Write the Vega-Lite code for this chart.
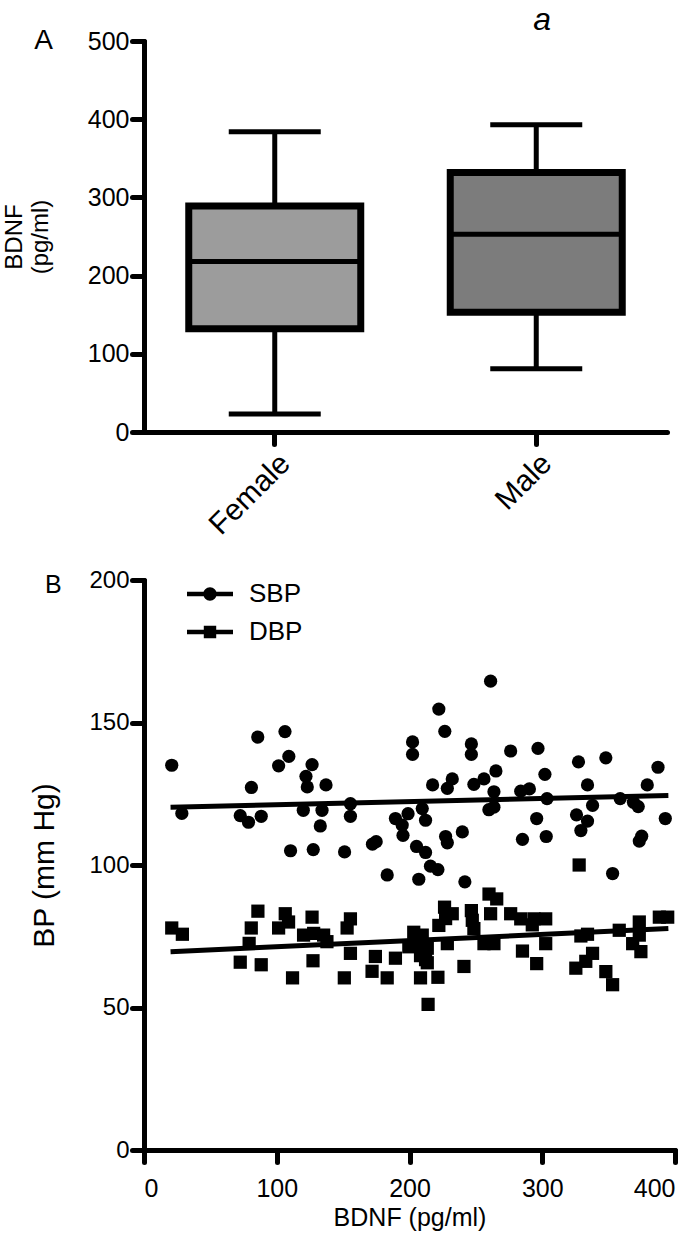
{
  "$schema": "https://vega.github.io/schema/vega-lite/v6.json",
  "background": "white",
  "padding": {"left": 2, "top": 4, "right": 10, "bottom": 2},
  "title": {"text": "a", "anchor": "start", "dx": 531, "fontSize": 32, "fontStyle": "italic", "fontWeight": "normal", "font": "Liberation Sans", "color": "black", "offset": -10},
  "spacing": 28,
  "resolve": {"legend": {"shape": "independent"}, "scale": {"shape": "independent"}},
  "config": {
    "view": {"stroke": null},
    "axis": {"domainColor": "black", "domainWidth": 5, "tickColor": "black", "tickWidth": 5, "tickSize": 12, "tickCap": "round", "domainCap": "round", "labelColor": "black", "titleColor": "black", "grid": false, "labelFont": "Liberation Sans", "titleFont": "Liberation Sans", "titleFontWeight": "normal", "labelFontSize": 25, "labelPadding": 3}
  },
  "datasets": {
    "box": [
      {"sex": "Female", "min": 23, "q1": 132, "median": 218, "q3": 289, "max": 384},
      {"sex": "Male", "min": 81, "q1": 153, "median": 253, "q3": 332, "max": 393}
    ],
    "fit": [
      {"bdnf": 20, "bp": 120.3, "series": "SBP"},
      {"bdnf": 395, "bp": 124.4, "series": "SBP"},
      {"bdnf": 20, "bp": 69.6, "series": "DBP"},
      {"bdnf": 395, "bp": 77.7, "series": "DBP"}
    ],
    "pts": [
      {"bdnf": 20.9, "bp": 135.0, "series": "SBP"},
      {"bdnf": 28.5, "bp": 118.1, "series": "SBP"},
      {"bdnf": 85.7, "bp": 144.9, "series": "SBP"},
      {"bdnf": 106.2, "bp": 146.8, "series": "SBP"},
      {"bdnf": 109.1, "bp": 138.1, "series": "SBP"},
      {"bdnf": 101.4, "bp": 134.8, "series": "SBP"},
      {"bdnf": 80.9, "bp": 127.2, "series": "SBP"},
      {"bdnf": 126.6, "bp": 135.2, "series": "SBP"},
      {"bdnf": 122.0, "bp": 131.1, "series": "SBP"},
      {"bdnf": 123.0, "bp": 127.4, "series": "SBP"},
      {"bdnf": 137.1, "bp": 128.1, "series": "SBP"},
      {"bdnf": 72.5, "bp": 117.3, "series": "SBP"},
      {"bdnf": 78.7, "bp": 115.0, "series": "SBP"},
      {"bdnf": 88.3, "bp": 117.1, "series": "SBP"},
      {"bdnf": 120.0, "bp": 119.2, "series": "SBP"},
      {"bdnf": 134.1, "bp": 119.2, "series": "SBP"},
      {"bdnf": 132.8, "bp": 113.7, "series": "SBP"},
      {"bdnf": 110.4, "bp": 105.0, "series": "SBP"},
      {"bdnf": 127.5, "bp": 105.4, "series": "SBP"},
      {"bdnf": 151.1, "bp": 104.6, "series": "SBP"},
      {"bdnf": 155.5, "bp": 121.5, "series": "SBP"},
      {"bdnf": 155.5, "bp": 117.1, "series": "SBP"},
      {"bdnf": 183.2, "bp": 96.5, "series": "SBP"},
      {"bdnf": 172.1, "bp": 107.3, "series": "SBP"},
      {"bdnf": 174.9, "bp": 108.2, "series": "SBP"},
      {"bdnf": 189.4, "bp": 116.3, "series": "SBP"},
      {"bdnf": 194.5, "bp": 114.0, "series": "SBP"},
      {"bdnf": 195.1, "bp": 110.4, "series": "SBP"},
      {"bdnf": 198.9, "bp": 118.0, "series": "SBP"},
      {"bdnf": 202.3, "bp": 143.2, "series": "SBP"},
      {"bdnf": 202.3, "bp": 138.8, "series": "SBP"},
      {"bdnf": 222.1, "bp": 154.7, "series": "SBP"},
      {"bdnf": 226.6, "bp": 146.9, "series": "SBP"},
      {"bdnf": 246.6, "bp": 142.5, "series": "SBP"},
      {"bdnf": 246.6, "bp": 138.8, "series": "SBP"},
      {"bdnf": 261.1, "bp": 164.5, "series": "SBP"},
      {"bdnf": 276.2, "bp": 140.0, "series": "SBP"},
      {"bdnf": 296.8, "bp": 140.9, "series": "SBP"},
      {"bdnf": 327.3, "bp": 136.2, "series": "SBP"},
      {"bdnf": 347.9, "bp": 137.6, "series": "SBP"},
      {"bdnf": 387.2, "bp": 134.3, "series": "SBP"},
      {"bdnf": 265.1, "bp": 133.0, "series": "SBP"},
      {"bdnf": 302.0, "bp": 131.8, "series": "SBP"},
      {"bdnf": 232.2, "bp": 130.2, "series": "SBP"},
      {"bdnf": 228.5, "bp": 126.9, "series": "SBP"},
      {"bdnf": 217.4, "bp": 128.1, "series": "SBP"},
      {"bdnf": 248.5, "bp": 128.3, "series": "SBP"},
      {"bdnf": 256.1, "bp": 130.2, "series": "SBP"},
      {"bdnf": 263.6, "bp": 125.7, "series": "SBP"},
      {"bdnf": 283.8, "bp": 125.9, "series": "SBP"},
      {"bdnf": 290.3, "bp": 126.7, "series": "SBP"},
      {"bdnf": 334.1, "bp": 128.1, "series": "SBP"},
      {"bdnf": 379.1, "bp": 128.1, "series": "SBP"},
      {"bdnf": 303.6, "bp": 123.3, "series": "SBP"},
      {"bdnf": 358.7, "bp": 123.3, "series": "SBP"},
      {"bdnf": 337.9, "bp": 120.9, "series": "SBP"},
      {"bdnf": 372.3, "bp": 120.5, "series": "SBP"},
      {"bdnf": 368.7, "bp": 122.0, "series": "SBP"},
      {"bdnf": 259.8, "bp": 119.4, "series": "SBP"},
      {"bdnf": 263.6, "bp": 120.3, "series": "SBP"},
      {"bdnf": 209.6, "bp": 119.8, "series": "SBP"},
      {"bdnf": 212.1, "bp": 115.7, "series": "SBP"},
      {"bdnf": 295.8, "bp": 116.3, "series": "SBP"},
      {"bdnf": 325.8, "bp": 117.6, "series": "SBP"},
      {"bdnf": 334.1, "bp": 115.4, "series": "SBP"},
      {"bdnf": 329.1, "bp": 112.1, "series": "SBP"},
      {"bdnf": 392.7, "bp": 116.3, "series": "SBP"},
      {"bdnf": 227.2, "bp": 110.0, "series": "SBP"},
      {"bdnf": 228.5, "bp": 107.8, "series": "SBP"},
      {"bdnf": 239.8, "bp": 111.6, "series": "SBP"},
      {"bdnf": 285.1, "bp": 109.0, "series": "SBP"},
      {"bdnf": 303.0, "bp": 110.0, "series": "SBP"},
      {"bdnf": 374.9, "bp": 110.1, "series": "SBP"},
      {"bdnf": 373.1, "bp": 108.4, "series": "SBP"},
      {"bdnf": 205.3, "bp": 106.5, "series": "SBP"},
      {"bdnf": 212.1, "bp": 104.4, "series": "SBP"},
      {"bdnf": 215.8, "bp": 99.6, "series": "SBP"},
      {"bdnf": 221.4, "bp": 98.4, "series": "SBP"},
      {"bdnf": 207.0, "bp": 95.0, "series": "SBP"},
      {"bdnf": 241.7, "bp": 94.1, "series": "SBP"},
      {"bdnf": 353.0, "bp": 97.0, "series": "SBP"},
      {"bdnf": 20.9, "bp": 77.9, "series": "DBP"},
      {"bdnf": 28.9, "bp": 75.7, "series": "DBP"},
      {"bdnf": 85.8, "bp": 83.8, "series": "DBP"},
      {"bdnf": 80.8, "bp": 77.9, "series": "DBP"},
      {"bdnf": 79.2, "bp": 72.5, "series": "DBP"},
      {"bdnf": 72.5, "bp": 65.9, "series": "DBP"},
      {"bdnf": 88.3, "bp": 65.0, "series": "DBP"},
      {"bdnf": 106.4, "bp": 82.9, "series": "DBP"},
      {"bdnf": 108.9, "bp": 80.0, "series": "DBP"},
      {"bdnf": 101.4, "bp": 77.9, "series": "DBP"},
      {"bdnf": 111.9, "bp": 60.4, "series": "DBP"},
      {"bdnf": 126.6, "bp": 81.7, "series": "DBP"},
      {"bdnf": 120.2, "bp": 75.4, "series": "DBP"},
      {"bdnf": 127.8, "bp": 76.0, "series": "DBP"},
      {"bdnf": 135.3, "bp": 75.4, "series": "DBP"},
      {"bdnf": 137.8, "bp": 73.1, "series": "DBP"},
      {"bdnf": 127.3, "bp": 66.4, "series": "DBP"},
      {"bdnf": 155.5, "bp": 81.1, "series": "DBP"},
      {"bdnf": 153.0, "bp": 77.9, "series": "DBP"},
      {"bdnf": 155.5, "bp": 69.0, "series": "DBP"},
      {"bdnf": 150.9, "bp": 60.4, "series": "DBP"},
      {"bdnf": 174.3, "bp": 67.9, "series": "DBP"},
      {"bdnf": 171.8, "bp": 62.7, "series": "DBP"},
      {"bdnf": 183.2, "bp": 60.4, "series": "DBP"},
      {"bdnf": 189.4, "bp": 67.3, "series": "DBP"},
      {"bdnf": 203.2, "bp": 76.4, "series": "DBP"},
      {"bdnf": 204.5, "bp": 72.4, "series": "DBP"},
      {"bdnf": 199.5, "bp": 71.3, "series": "DBP"},
      {"bdnf": 208.3, "bp": 60.4, "series": "DBP"},
      {"bdnf": 214.0, "bp": 51.1, "series": "DBP"},
      {"bdnf": 209.6, "bp": 75.4, "series": "DBP"},
      {"bdnf": 213.4, "bp": 70.8, "series": "DBP"},
      {"bdnf": 212.1, "bp": 66.8, "series": "DBP"},
      {"bdnf": 208.3, "bp": 68.2, "series": "DBP"},
      {"bdnf": 213.4, "bp": 65.7, "series": "DBP"},
      {"bdnf": 221.4, "bp": 60.6, "series": "DBP"},
      {"bdnf": 226.4, "bp": 85.2, "series": "DBP"},
      {"bdnf": 227.2, "bp": 81.2, "series": "DBP"},
      {"bdnf": 222.1, "bp": 78.8, "series": "DBP"},
      {"bdnf": 232.2, "bp": 82.9, "series": "DBP"},
      {"bdnf": 246.6, "bp": 84.0, "series": "DBP"},
      {"bdnf": 247.3, "bp": 80.6, "series": "DBP"},
      {"bdnf": 248.5, "bp": 77.7, "series": "DBP"},
      {"bdnf": 228.5, "bp": 72.4, "series": "DBP"},
      {"bdnf": 241.0, "bp": 64.4, "series": "DBP"},
      {"bdnf": 256.1, "bp": 72.4, "series": "DBP"},
      {"bdnf": 263.6, "bp": 72.4, "series": "DBP"},
      {"bdnf": 259.9, "bp": 89.8, "series": "DBP"},
      {"bdnf": 265.7, "bp": 88.1, "series": "DBP"},
      {"bdnf": 261.1, "bp": 82.9, "series": "DBP"},
      {"bdnf": 276.2, "bp": 82.9, "series": "DBP"},
      {"bdnf": 283.8, "bp": 81.1, "series": "DBP"},
      {"bdnf": 293.8, "bp": 81.1, "series": "DBP"},
      {"bdnf": 302.6, "bp": 81.1, "series": "DBP"},
      {"bdnf": 302.6, "bp": 72.4, "series": "DBP"},
      {"bdnf": 285.1, "bp": 69.8, "series": "DBP"},
      {"bdnf": 295.8, "bp": 65.4, "series": "DBP"},
      {"bdnf": 292.5, "bp": 79.0, "series": "DBP"},
      {"bdnf": 329.1, "bp": 75.1, "series": "DBP"},
      {"bdnf": 334.1, "bp": 75.7, "series": "DBP"},
      {"bdnf": 358.0, "bp": 77.1, "series": "DBP"},
      {"bdnf": 373.1, "bp": 80.0, "series": "DBP"},
      {"bdnf": 373.1, "bp": 75.4, "series": "DBP"},
      {"bdnf": 374.3, "bp": 69.6, "series": "DBP"},
      {"bdnf": 388.2, "bp": 81.7, "series": "DBP"},
      {"bdnf": 394.5, "bp": 81.7, "series": "DBP"},
      {"bdnf": 368.1, "bp": 72.4, "series": "DBP"},
      {"bdnf": 337.9, "bp": 69.0, "series": "DBP"},
      {"bdnf": 332.8, "bp": 66.2, "series": "DBP"},
      {"bdnf": 325.3, "bp": 63.8, "series": "DBP"},
      {"bdnf": 347.9, "bp": 62.6, "series": "DBP"},
      {"bdnf": 353.0, "bp": 58.0, "series": "DBP"},
      {"bdnf": 327.8, "bp": 100.0, "series": "DBP"}
    ]
  },
  "vconcat": [
    {
      "width": 523,
      "height": 391,
      "title": {"text": "A", "anchor": "start", "frame": "bounds", "fontSize": 28, "font": "Liberation Sans", "fontWeight": "normal", "color": "black", "offset": -26, "dx": 32},
      "data": {"name": "box"},
      "encoding": {
        "x": {"field": "sex", "type": "nominal", "sort": ["Female", "Male"], "scale": {"paddingInner": 0, "paddingOuter": 0}, "axis": {"title": null, "labelAngle": -45, "labelFont": "Liberation Sans", "labelFontSize": 30, "labelPadding": 4}}
      },
      "layer": [
        {
          "mark": {"type": "rule", "color": "black", "strokeWidth": 5},
          "encoding": {
            "y": {"field": "min", "type": "quantitative", "scale": {"domain": [0, 500]}, "axis": {"values": [0, 100, 200, 300, 400, 500], "title": ["BDNF", "(pg/ml)"], "titleFontSize": 24, "titlePadding": 35}},
            "y2": {"field": "max"}
          }
        },
        {
          "mark": {"type": "bar", "size": 172, "stroke": "black", "strokeWidth": 7},
          "encoding": {
            "y": {"field": "q1", "type": "quantitative"},
            "y2": {"field": "q3"},
            "fill": {"field": "sex", "type": "nominal", "scale": {"domain": ["Female", "Male"], "range": ["#9c9c9c", "#7c7c7c"]}, "legend": null}
          }
        },
        {
          "mark": {"type": "tick", "size": 176, "thickness": 5, "color": "black", "opacity": 1},
          "encoding": {"y": {"field": "median", "type": "quantitative"}}
        },
        {
          "mark": {"type": "tick", "size": 92, "thickness": 5, "color": "black", "opacity": 1},
          "encoding": {"y": {"field": "min", "type": "quantitative"}}
        },
        {
          "mark": {"type": "tick", "size": 92, "thickness": 5, "color": "black", "opacity": 1},
          "encoding": {"y": {"field": "max", "type": "quantitative"}}
        }
      ]
    },
    {
      "width": 531,
      "height": 570,
      "title": {"text": "B", "anchor": "start", "frame": "bounds", "fontSize": 25, "font": "Liberation Sans", "fontWeight": "normal", "color": "black", "offset": -30, "dx": 15},
      "resolve": {"scale": {"shape": "independent"}, "legend": {"shape": "independent"}},
      "layer": [
        {
          "data": {"name": "fit"},
          "mark": {"type": "line", "color": "black", "strokeWidth": 5},
          "encoding": {
            "x": {"field": "bdnf", "type": "quantitative", "scale": {"domain": [0, 400]}, "axis": {"values": [0, 100, 200, 300, 400], "title": "BDNF (pg/ml)", "titleFontSize": 25, "titlePadding": 4, "labelPadding": 14}},
            "y": {"field": "bp", "type": "quantitative", "scale": {"domain": [0, 200]}, "axis": {"values": [0, 50, 100, 150, 200], "title": "BP (mm Hg)", "titleFontSize": 30, "titlePadding": 29, "labelFontSize": 24}},
            "detail": {"field": "series"}
          }
        },
        {
          "data": {"name": "pts"},
          "mark": {"type": "point", "filled": true, "color": "black", "opacity": 1, "size": 175},
          "encoding": {
            "x": {"field": "bdnf", "type": "quantitative"},
            "y": {"field": "bp", "type": "quantitative"},
            "shape": {"field": "series", "type": "nominal", "scale": {"domain": ["SBP", "DBP"], "range": ["circle", "square"]}, "legend": null}
          }
        },
        {
          "data": {"name": "pts"},
          "transform": [{"filter": "datum.bdnf < 0"}],
          "mark": {"type": "point", "filled": true, "color": "black", "opacity": 1, "size": 2116},
          "encoding": {
            "x": {"field": "bdnf", "type": "quantitative"},
            "y": {"field": "bp", "type": "quantitative"},
            "shape": {
              "field": "series", "type": "nominal",
              "scale": {"domain": ["SBP", "DBP"], "range": ["M-1,-0.1H1V0.1H-1Z M0.29,0A0.29,0.29,0,1,1,-0.29,0A0.29,0.29,0,1,1,0.29,0Z", "M-1,-0.1H1V0.1H-1Z M-0.27,-0.27H0.27V0.27H-0.27Z"]},
              "legend": {
                "title": null, "orient": "none", "legendX": 43, "legendY": -9,
                "symbolSize": 2116, "symbolFillColor": "black", "symbolStrokeColor": "black", "symbolStrokeWidth": 0, "symbolOpacity": 1,
                "labelFont": "Liberation Sans", "labelFontSize": 26, "labelColor": "black", "labelOffset": 16, "rowPadding": 2
              }
            }
          }
        }
      ]
    }
  ]
}
